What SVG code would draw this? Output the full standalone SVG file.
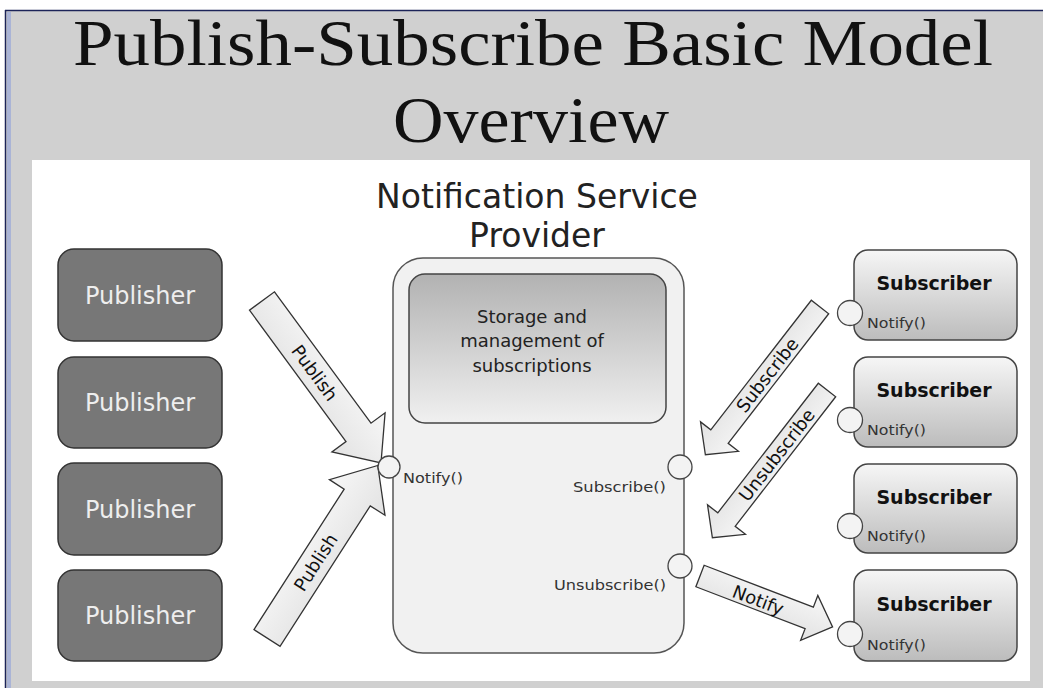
<svg xmlns="http://www.w3.org/2000/svg" width="1043" height="688" viewBox="0 0 1043 688">
<defs>
<linearGradient id="subGrad" x1="0" y1="0" x2="0" y2="1">
<stop offset="0" stop-color="#f6f6f6"/>
<stop offset="1" stop-color="#bcbcbc"/>
</linearGradient>
<linearGradient id="storeGrad" x1="0" y1="0" x2="0" y2="1">
<stop offset="0" stop-color="#b2b2b2"/>
<stop offset="1" stop-color="#f0f0f0"/>
</linearGradient>
<linearGradient id="arrowGrad" x1="0" y1="0" x2="0" y2="1">
<stop offset="0" stop-color="#f7f7f7"/>
<stop offset="1" stop-color="#e2e2e2"/>
</linearGradient>
<style>
.pub{fill:#777777;stroke:#333333;stroke-width:1.5}
.pubtxt{font-family:"DejaVu Sans",Verdana,sans-serif;font-size:24px;fill:#eeeeee;text-anchor:middle}
.sub{fill:url(#subGrad);stroke:#444444;stroke-width:1.5}
.subtxt{font-family:"DejaVu Sans",Verdana,sans-serif;font-size:19px;font-weight:bold;fill:#111111;text-anchor:middle}
.port{fill:#f3f3f3;stroke:#444444;stroke-width:1.3}
.small{font-family:"DejaVu Sans",Verdana,sans-serif;font-size:14px;fill:#333333}
.arrow{fill:url(#arrowGrad);stroke:#333333;stroke-width:1.3;stroke-linejoin:miter}
.alabel{font-family:"DejaVu Sans",Verdana,sans-serif;font-size:18px;fill:#111111;text-anchor:middle}
.title{font-family:"Liberation Serif","Times New Roman",serif;font-size:66px;fill:#111111;text-anchor:middle}
.head{font-family:"DejaVu Sans",Verdana,sans-serif;font-size:33px;fill:#222222;text-anchor:middle}
.store{font-family:"DejaVu Sans",Verdana,sans-serif;font-size:18px;fill:#222222;text-anchor:middle}
</style>
</defs>

<!-- background frame -->
<rect x="0" y="0" width="1043" height="688" fill="#ffffff"/>
<rect x="5" y="10" width="1038" height="678" fill="#d0d0d0"/>
<rect x="7" y="12" width="4" height="676" fill="#aab4d6"/>
<line x1="5" y1="10.5" x2="1043" y2="10.5" stroke="#1c2458" stroke-width="1.5"/>
<line x1="5.5" y1="10" x2="5.5" y2="688" stroke="#1c2458" stroke-width="1.5"/>
<rect x="32" y="160" width="998" height="521" fill="#ffffff"/>

<!-- title -->
<text class="title" x="533" y="65" textLength="920" lengthAdjust="spacingAndGlyphs">Publish-Subscribe Basic Model</text>
<text class="title" x="531" y="142" textLength="276" lengthAdjust="spacingAndGlyphs">Overview</text>

<!-- connectors -->
<g id="connectors">
<g transform="translate(262,301) rotate(53.7)">
<path class="arrow" d="M0,-15.5 H163 V-33 L201,0 L163,33 V15.5 H0 Z"/>
<text class="alabel" x="89" y="6.5" font-size="19">Publish</text>
</g>
<g transform="translate(267,638) rotate(-57.3)">
<path class="arrow" d="M0,-15.5 H167 V-33 L205,0 L167,33 V15.5 H0 Z"/>
<text class="alabel" x="90" y="6.5" font-size="19">Publish</text>
</g>
<g transform="translate(820,307) rotate(127.8)">
<path class="arrow" d="M0,-11 H164 V-24 L187,0 L164,24 V11 H0 Z"/>
<text class="alabel" x="86" y="6.5" transform="rotate(180 86 0)">Subscribe</text>
</g>
<g transform="translate(827,390) rotate(127.8)">
<path class="arrow" d="M0,-11 H164 V-24 L187,0 L164,24 V11 H0 Z"/>
<text class="alabel" x="82" y="6.5" transform="rotate(180 82 0)">Unsubscribe</text>
</g>
<g transform="translate(700,576) rotate(21)">
<path class="arrow" d="M0,-11.5 H117 V-24 L142,0 L117,24 V11.5 H0 Z"/>
<text class="alabel" x="63" y="8">Notify</text>
</g>
</g>

<!-- provider -->
<g id="provider">
<text class="head" x="537" y="208">Notification Service</text>
<text class="head" x="537" y="247">Provider</text>
<rect x="393" y="258" width="291" height="395" rx="30" fill="#f1f1f1" stroke="#555555" stroke-width="1.5"/>
<g id="storage">
<rect x="409" y="274" width="257" height="149" rx="16" fill="url(#storeGrad)" stroke="#444444" stroke-width="1.5"/>
<text class="store" x="532" y="323">Storage and</text>
<text class="store" x="532" y="347">management of</text>
<text class="store" x="532" y="372">subscriptions</text>
</g>
<circle class="port" cx="389" cy="467" r="11"/>
<text class="small" x="403" y="483" font-size="15" textLength="60" lengthAdjust="spacingAndGlyphs">Notify()</text>
<circle class="port" cx="680" cy="467" r="12"/>
<text class="small" x="666" y="492" font-size="15" text-anchor="end" textLength="93" lengthAdjust="spacingAndGlyphs">Subscribe()</text>
<circle class="port" cx="680" cy="566" r="12"/>
<text class="small" x="666" y="590" font-size="15" text-anchor="end" textLength="112" lengthAdjust="spacingAndGlyphs">Unsubscribe()</text>
</g>

<!-- publishers -->
<g id="publisher1"><rect class="pub" x="58" y="249" width="164" height="92" rx="16"/><text class="pubtxt" x="140" y="304">Publisher</text></g>
<g id="publisher2"><rect class="pub" x="58" y="357" width="164" height="91" rx="16"/><text class="pubtxt" x="140" y="411">Publisher</text></g>
<g id="publisher3"><rect class="pub" x="58" y="463" width="164" height="92" rx="16"/><text class="pubtxt" x="140" y="518">Publisher</text></g>
<g id="publisher4"><rect class="pub" x="58" y="570" width="164" height="91" rx="16"/><text class="pubtxt" x="140" y="624">Publisher</text></g>

<!-- subscribers -->
<g id="subscriber1"><rect class="sub" x="854" y="250" width="163" height="90" rx="14"/><text class="subtxt" x="934" y="290">Subscriber</text><circle class="port" cx="850" cy="313" r="12.5"/><text class="small" x="867" y="328" textLength="59" lengthAdjust="spacingAndGlyphs">Notify()</text></g>
<g id="subscriber2"><rect class="sub" x="854" y="357" width="163" height="90" rx="14"/><text class="subtxt" x="934" y="397">Subscriber</text><circle class="port" cx="850" cy="420" r="12.5"/><text class="small" x="867" y="435" textLength="59" lengthAdjust="spacingAndGlyphs">Notify()</text></g>
<g id="subscriber3"><rect class="sub" x="854" y="464" width="163" height="89" rx="14"/><text class="subtxt" x="934" y="504">Subscriber</text><circle class="port" cx="850" cy="526" r="12.5"/><text class="small" x="867" y="541" textLength="59" lengthAdjust="spacingAndGlyphs">Notify()</text></g>
<g id="subscriber4"><rect class="sub" x="854" y="570" width="163" height="91" rx="14"/><text class="subtxt" x="934" y="611">Subscriber</text><circle class="port" cx="850" cy="634" r="12.5"/><text class="small" x="867" y="650" textLength="59" lengthAdjust="spacingAndGlyphs">Notify()</text></g>
</svg>
